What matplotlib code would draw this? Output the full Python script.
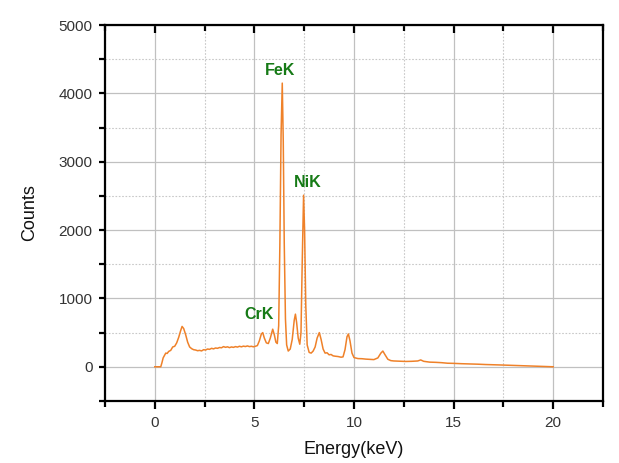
import matplotlib
matplotlib.use("Agg")
import matplotlib.pyplot as plt
from matplotlib.ticker import MultipleLocator

# spectrum (keV, counts)
energy = [0.00, 0.30, 0.36, 0.42, 0.50, 0.55, 0.62, 0.70, 0.80, 0.90, 1.00,
          1.10, 1.20, 1.30, 1.37, 1.45, 1.55, 1.65, 1.75, 1.85, 1.95, 2.05,
          2.15, 2.25, 2.35, 2.45, 2.55, 2.65, 2.75, 2.85, 2.95, 3.05, 3.15,
          3.25, 3.35, 3.45, 3.55, 3.65, 3.75, 3.85, 3.95, 4.05, 4.15, 4.25,
          4.35, 4.45, 4.55, 4.65, 4.75, 4.85, 4.95, 5.05, 5.15, 5.25, 5.35,
          5.42, 5.50, 5.60, 5.70, 5.80, 5.92, 6.00, 6.08, 6.15, 6.22, 6.28,
          6.34, 6.40, 6.45, 6.50, 6.56, 6.62, 6.70, 6.80, 6.90, 7.00, 7.06,
          7.12, 7.20, 7.28, 7.34, 7.40, 7.47, 7.52, 7.58, 7.65, 7.75, 7.85,
          7.95, 8.05, 8.15, 8.26, 8.35, 8.45, 8.55, 8.65, 8.75, 8.85, 8.95,
          9.05, 9.20, 9.35, 9.45, 9.55, 9.65, 9.72, 9.80, 9.90, 10.00, 10.20,
          10.40, 10.60, 10.80, 11.00, 11.20, 11.35, 11.45, 11.55, 11.70,
          11.85, 12.00, 12.30, 12.60, 12.90, 13.20, 13.35, 13.50, 13.80,
          14.10, 14.40, 14.70, 15.00, 15.40, 15.80, 16.20, 16.60, 17.00,
          17.40, 17.80, 18.20, 18.60, 19.00, 19.40, 19.80, 20.00]
counts = [0, 0, 60, 130, 175, 200, 195, 225, 240, 290, 300,
          350, 430, 530, 590, 560, 470, 360, 290, 265, 250, 245,
          235, 240, 232, 250, 245, 260, 255, 270, 262, 275, 270,
          282, 278, 295, 285, 292, 280, 290, 284, 295, 288, 300,
          292, 302, 296, 305, 295, 300, 292, 300, 310, 380, 480,
          500, 420, 350, 340, 420, 550, 470, 360, 340, 600, 1800,
          3400, 4150, 3300, 1800, 700, 320, 230, 260, 400, 680, 770,
          650, 420, 330, 500, 1500, 2510, 2000, 900, 320, 210, 200,
          230, 290, 420, 500, 400, 260, 200, 205, 175, 180, 160,
          155, 150, 140, 145, 250, 440, 480, 380, 200, 135, 120,
          118, 112, 108, 105, 130, 200, 230, 180, 110,
          90, 85, 82, 78, 80, 85, 100, 80, 68,
          65, 60, 52, 50, 45, 42, 38, 33, 30,
          26, 22, 18, 14, 10, 6, 3, 0]

peak_labels = ["FeK", "NiK", "CrK"]
peak_x = [6.28, 7.66, 5.24]
peak_y = [4340, 2690, 770]

plt.rcParams["font.family"] = ["Liberation Sans", "DejaVu Sans"]

fig = plt.figure(figsize=(6.19, 4.63), dpi=100)
ax = fig.add_axes([0.1696, 0.134, 0.8045, 0.812])

ax.plot(energy, counts, color="#ef8129", linewidth=1.1)

for lab, x, y in zip(peak_labels, peak_x, peak_y):
    ax.text(x, y, lab, color="#167a16", fontsize=11.5, fontweight="bold",
            ha="center", va="center")

ax.set_xlim(-2.5, 22.5)
ax.set_ylim(-500, 5000)
ax.xaxis.set_major_locator(MultipleLocator(5))
ax.xaxis.set_minor_locator(MultipleLocator(2.5))
ax.yaxis.set_major_locator(MultipleLocator(1000))
ax.yaxis.set_minor_locator(MultipleLocator(500))

ax.grid(which="major", color="#c0c0c0", linewidth=0.9, linestyle="-")
ax.grid(which="minor", color="#c8c8c8", linewidth=0.8, linestyle=(0, (1.5, 1.5)))
ax.set_axisbelow(True)

for s in ax.spines.values():
    s.set_linewidth(1.6)
    s.set_color("black")

ax.tick_params(which="both", direction="out", width=1.6, colors="black",
               labelcolor="#333333", labelsize=11, pad=5,
               top=True, labeltop=False, right=False)
ax.tick_params(axis="x", which="major", length=6)
ax.tick_params(axis="x", which="minor", length=4)
ax.tick_params(axis="y", which="both", length=4)

# top ticks point inward
for t in ax.xaxis.get_major_ticks() + ax.xaxis.get_minor_ticks():
    t.tick2line.set_marker(3)

ax.set_xlabel("Energy(keV)", fontsize=13, color="#111111", labelpad=8)
ax.set_ylabel("Counts", fontsize=13, color="#111111", labelpad=15)

fig.savefig("out.png", dpi=100)
